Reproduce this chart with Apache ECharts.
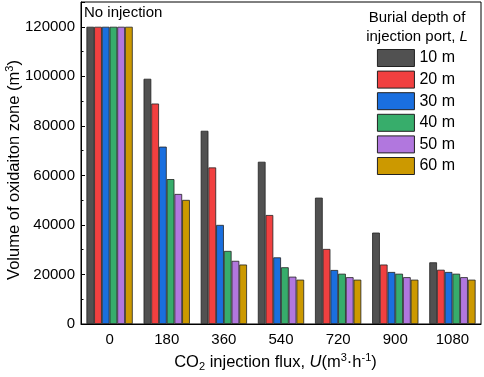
<!DOCTYPE html>
<html><head><meta charset="utf-8">
<script src="https://cdn.jsdelivr.net/npm/echarts@6/dist/echarts.min.js"></script>
<style>html,body{margin:0;padding:0;background:#fff}#c{width:484px;height:377px}</style>
</head><body><div id="c"></div>
<script>
const categories = ['0','180','360','540','720','900','1080'];
const seriesNames = ['10 m','20 m','30 m','40 m','50 m','60 m'];
const d10 = [120000, 99000, 78000, 65500, 51000, 36900, 24900];
const d20 = [120000, 89000, 63200, 44000, 30300, 24000, 21900];
const d30 = [120000, 71600, 40000, 26900, 21800, 21000, 21000];
const d40 = [120000, 58500, 29500, 22900, 20300, 20300, 20300];
const d50 = [120000, 52500, 25500, 19100, 18900, 18900, 18900];
const d60 = [120000, 50100, 24000, 17900, 17900, 17900, 17900];
const yTicks = [0, 20000, 40000, 60000, 80000, 100000, 120000];
const colors = ['#515151','#F14040','#1A6FDF','#37AD6B','#B177DE','#CC9900'];
const allData = [d10, d20, d30, d40, d50, d60];

const font = 'Liberation Sans, Arial, sans-serif';
const chart = echarts.init(document.getElementById('c'));
chart.setOption({
  animation: false,
  textStyle: {fontFamily: font},
  grid: {left: 81, right: 3, top: 2, bottom: 53, containLabel: false, outerBoundsMode: 'none',
    show: true, borderColor: '#000', borderWidth: 1, backgroundColor: 'transparent'},
  legend: {
    orient: 'vertical', right: 29, top: 49, itemWidth: 37, itemHeight: 17, itemGap: 3.6,
    padding: 0, icon: 'rect', align: 'left',
    data: seriesNames,
    textStyle: {fontFamily: font, fontSize: 16, color: '#000'},
    itemStyle: {borderColor: '#222', borderWidth: 1}
  },
  graphic: [{
    type: 'text', left: 84, top: 5,
    style: {text: 'No injection', fontFamily: font, fontSize: 15, fill: '#000'}
  }, {
    type: 'text',
    style: {
      x: 417, y: 8, align: 'center', verticalAlign: 'top',
      text: 'Burial depth of\ninjection port, {i|L}',
      fontFamily: font, fontSize: 15, fill: '#000', lineHeight: 19,
      rich: {i: {fontFamily: font, fontSize: 15, fontStyle: 'italic', fill: '#000', lineHeight: 19}}
    }
  }],
  xAxis: {
    type: 'category', data: categories,
    axisLine: {lineStyle: {color: '#000', width: 1}},
    axisTick: {inside: true, length: 4, lineStyle: {color: '#000'}},
    axisLabel: {fontFamily: font, fontSize: 15, color: '#000', margin: 8},
    name: '{a|CO}{sub|2}{a| injection flux, }{i|U}{a|(m}{sup|3}{a|·h}{sup|-1}{a|)}',
    nameLocation: 'middle', nameGap: 28, nameMoveOverlap: false,
    nameTextStyle: {
      padding: [0, 11, 0, 0],
      rich: {
        a: {fontFamily: font, fontSize: 16.5, color: '#000', lineHeight: 20},
        i: {fontFamily: font, fontSize: 16.5, color: '#000', fontStyle: 'italic', lineHeight: 20},
        sub: {fontFamily: font, fontSize: 11, color: '#000', verticalAlign: 'bottom', lineHeight: 15},
        sup: {fontFamily: font, fontSize: 11, color: '#000', verticalAlign: 'top', lineHeight: 13}
      }
    }
  },
  yAxis: {
    type: 'value', min: 0, max: 130000, interval: 20000,
    axisLine: {show: true, lineStyle: {color: '#000', width: 1}},
    axisTick: {show: true, inside: true, length: 4, lineStyle: {color: '#000'}},
    minorTick: {show: true, splitNumber: 2, length: 2.5, lineStyle: {color: '#000'}},
    splitLine: {show: false},
    axisLabel: {fontFamily: font, fontSize: 15, color: '#000', margin: 6,
      formatter: v => yTicks.indexOf(v) >= 0 ? String(v) : ''},
    name: '{a|Volume of oxidaiton zone (m}{sup|3}{a|)}',
    nameLocation: 'middle', nameGap: 57, nameRotate: 90, nameMoveOverlap: false,
    nameTextStyle: {
      padding: [0, 14, 0, 0],
      rich: {
        a: {fontFamily: font, fontSize: 16.5, color: '#000', lineHeight: 20},
        sup: {fontFamily: font, fontSize: 11, color: '#000', verticalAlign: 'top', lineHeight: 13}
      }
    }
  },
  series: seriesNames.map((n, i) => ({
    name: n, type: 'bar', data: allData[i],
    barGap: '0%', barCategoryGap: '19%',
    itemStyle: {color: colors[i], borderColor: '#222', borderWidth: 0.8}
  }))
});
</script></body></html>
